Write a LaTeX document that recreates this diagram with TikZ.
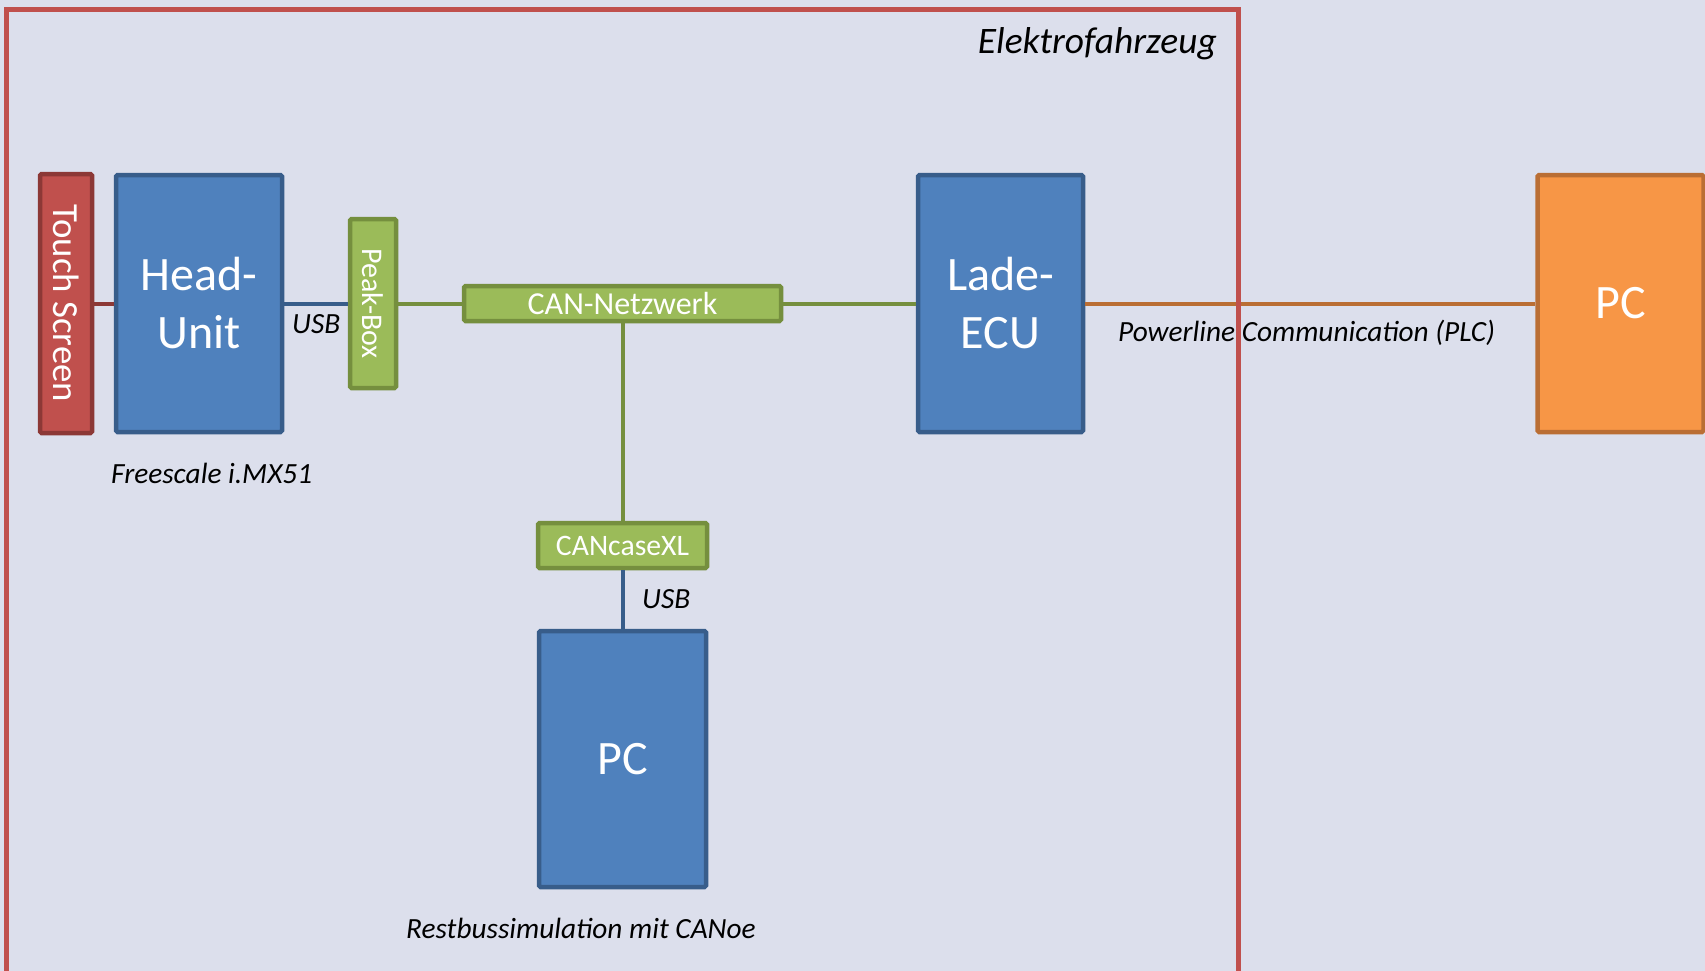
\documentclass[tikz,border=0pt]{standalone}
\usepackage{fontspec}
\setmainfont{Carlito}
\definecolor{bg}{RGB}{220,223,236}
\definecolor{bluef}{RGB}{79,129,189}
\definecolor{bluel}{RGB}{56,93,138}
\definecolor{redf}{RGB}{192,80,77}
\definecolor{redl}{RGB}{140,56,54}
\definecolor{greenf}{RGB}{155,187,89}
\definecolor{greenl}{RGB}{117,143,62}
\definecolor{orangef}{RGB}{247,150,70}
\definecolor{orangel}{RGB}{186,110,52}
\definecolor{framec}{RGB}{192,80,77}
\begin{document}
\begin{tikzpicture}[x=1pt,y=-1pt,
  box/.style={draw, line width=4.5pt, rounded corners=1.5pt, inner sep=0pt, text=white, align=center},
  bluebox/.style={box, fill=bluef, draw=bluel, font=\fontsize{48}{58}\selectfont},
  redbox/.style={box, fill=redf, draw=redl, font=\fontsize{36.8}{44}\selectfont},
  greenbox/.style={box, fill=greenf, draw=greenl},
  orangebox/.style={box, fill=orangef, draw=orangel, font=\fontsize{48}{58}\selectfont},
  lbl/.style={inner sep=0pt, font=\fontsize{29.3}{35}\selectfont\itshape},
  conn/.style={line width=4pt}]
\fill[bg] (0,0) rectangle (1705,971);
\useasboundingbox (0,0) rectangle (1705,971);

\node[redbox, rotate=-90, minimum width=259pt, minimum height=52pt] (ts) at (66,303.5) {Touch Screen};
\node[bluebox, minimum width=166pt, minimum height=257pt] (hu) at (199,303.5) {Head-\\Unit};
\node[greenbox, rotate=-90, minimum width=169pt, minimum height=46pt, font=\fontsize{30}{36}\selectfont] (pb) at (373,303.5) {Peak-Box};
\node[greenbox, minimum width=317pt, minimum height=35pt, font=\fontsize{32}{38}\selectfont] (can) at (622.5,303.5) {CAN-Netzwerk};
\node[greenbox, minimum width=169pt, minimum height=45pt, font=\fontsize{29.7}{35}\selectfont] (cc) at (622.5,545.5) {CANcaseXL};
\node[bluebox, minimum width=167pt, minimum height=256pt] (pc1) at (622.5,759) {PC};
\node[bluebox, minimum width=165pt, minimum height=257pt] (ecu) at (1000.5,303.5) {Lade-\\ECU};
\node[orangebox, minimum width=166pt, minimum height=257pt] (pc2) at (1620.5,303.5) {PC};

\draw[conn, redl] (ts) -- (hu);
\draw[conn, bluel] (hu) -- (pb);
\draw[conn, greenl] (pb) -- (can);
\draw[conn, greenl] (can) -- (ecu);
\draw[conn, greenl] (can) -- (cc);
\draw[conn, bluel] (cc) -- (pc1);
\draw[conn, orangel] (ecu) -- (pc2);

\node[lbl, anchor=base west] (usb1) at (292,333) {USB};
\node[lbl, anchor=base west] (fs) at (111,483) {Freescale i.MX51};
\node[lbl, anchor=base west] (usb2) at (642,608) {USB};
\node[lbl, anchor=base west] (rb) at (406,938) {Restbussimulation mit CANoe};
\node[lbl, anchor=base west] (plc) at (1118,341) {Powerline Communication (PLC)};
\node[inner sep=0pt, font=\fontsize{37.4}{45}\selectfont\itshape, anchor=base east] (ef) at (1217,54) {Elektrofahrzeug};

\draw[framec, line width=4.5pt] (6.5,1100) -- (6.5,9.5) -- (1238.5,9.5) -- (1238.5,1100);
\end{tikzpicture}
\end{document}
